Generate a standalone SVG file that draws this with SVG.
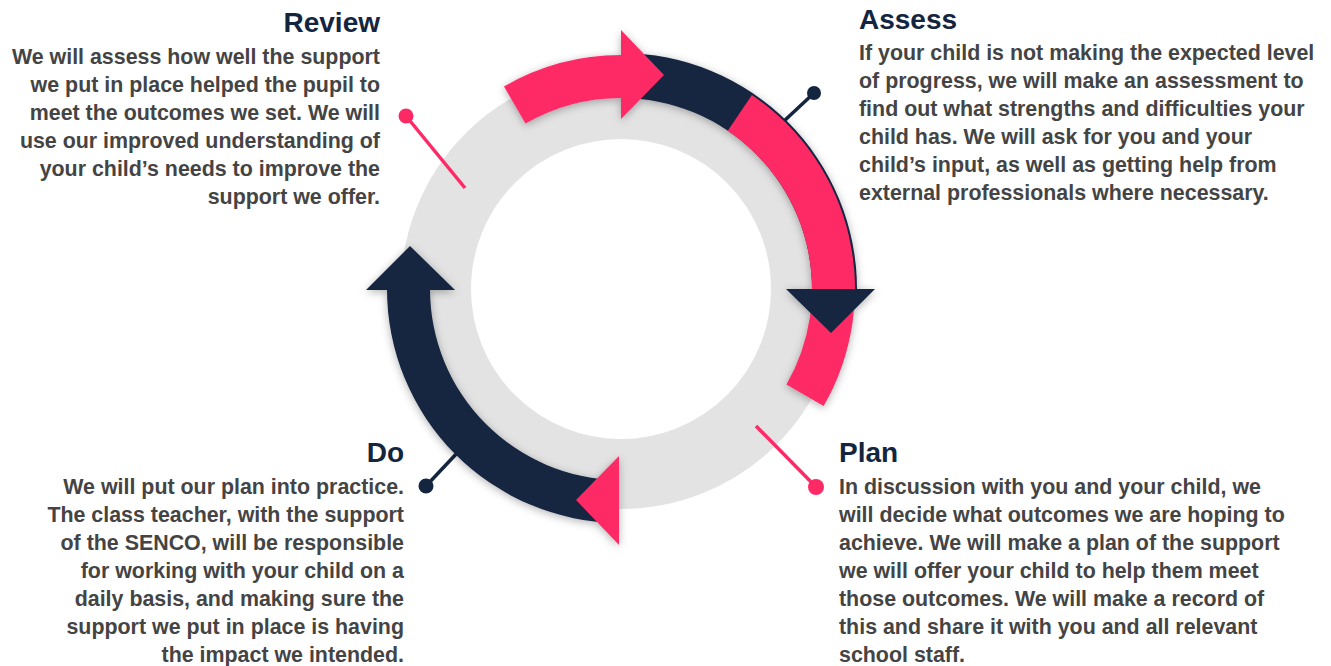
<svg xmlns="http://www.w3.org/2000/svg" width="1331" height="666" viewBox="0 0 1331 666">
  <defs>
    <filter id="sh" x="-20%" y="-20%" width="140%" height="140%">
      <feDropShadow dx="0" dy="2" stdDeviation="4" flood-color="#000" flood-opacity="0.3"/>
    </filter>
    <style>
      .pink { fill: #FE2A66; }
      .navy { fill: #14253F; }
      .h { font-family: "Liberation Sans", Arial, sans-serif; font-weight: bold; font-size: 28px; fill: #14253F; }
      .b { font-family: "Liberation Sans", Arial, sans-serif; font-weight: bold; font-size: 21.4px; fill: #444444; }
      .e { text-anchor: end; }
      .lp { stroke: #FE2A66; stroke-width: 3.5; fill: none; }
      .ln { stroke: #14253F; stroke-width: 3.5; fill: none; }
    </style>
  </defs>
  <rect width="1331" height="666" fill="#FFFFFF"/>

  <g id="ring">
    <circle cx="621" cy="289" r="185" fill="none" stroke="#E3E3E3" stroke-width="70"/>
  </g>

  <g id="connectors">
    <line class="lp" x1="465" y1="188" x2="406" y2="116"/>
    <circle class="pink" cx="406" cy="116" r="7.5"/>
    <line class="ln" x1="783" y1="122" x2="814" y2="93"/>
    <circle class="navy" cx="814" cy="93" r="7"/>
    <line class="lp" x1="756" y1="426" x2="816" y2="487"/>
    <circle class="pink" cx="816" cy="487" r="8"/>
    <line class="ln" x1="459" y1="451" x2="426" y2="486"/>
    <circle class="navy" cx="426" cy="486" r="7.5"/>
  </g>

  <g id="cycle" filter="url(#sh)">
    <g id="arc-do">
      <path class="navy" d="M 619 523 A 234 234 0 0 1 387 289 L 430 289 A 191 191 0 0 0 619 480 Z"/>
      <polygon class="navy" points="366,290 455,290 410,246"/>
    </g>
    <g id="arc-plan-head">
      <polygon class="pink" points="619,456 619,545 576,500"/>
    </g>
    <g id="arc-assess">
      <path class="navy" d="M 621 53 A 236 236 0 0 1 857 289 L 812 289 A 191 191 0 0 0 621 98 Z"/>
      <path class="pink" d="M 751.9 95 A 234 234 0 0 1 823.6 406 L 786.4 384.5 A 191 191 0 0 0 727.8 130.7 Z"/>
      <polygon class="navy" points="786,289 875,289 831,333"/>
    </g>
    <g id="arc-review">
      <path class="pink" d="M 525.5 123.6 L 504 86.4 A 234 234 0 0 1 621 55 L 621 30 L 664 75 L 621 119 L 621 98 A 191 191 0 0 0 525.5 123.6 Z"/>
    </g>
  </g>

  <g id="review">
    <text class="h e" x="380" y="32">Review</text>
    <text class="b e" x="380" y="64">We will assess how well the support</text>
    <text class="b e" x="380" y="92">we put in place helped the pupil to</text>
    <text class="b e" x="380" y="120">meet the outcomes we set. We will</text>
    <text class="b e" x="380" y="148">use our improved understanding of</text>
    <text class="b e" x="380" y="176">your child’s needs to improve the</text>
    <text class="b e" x="380" y="204">support we offer.</text>
  </g>

  <g id="assess">
    <text class="h" x="859" y="29">Assess</text>
    <text class="b" x="859" y="60">If your child is not making the expected level</text>
    <text class="b" x="859" y="88">of progress, we will make an assessment to</text>
    <text class="b" x="859" y="116">find out what strengths and difficulties your</text>
    <text class="b" x="859" y="144">child has. We will ask for you and your</text>
    <text class="b" x="859" y="172">child’s input, as well as getting help from</text>
    <text class="b" x="859" y="200">external professionals where necessary.</text>
  </g>

  <g id="plan">
    <text class="h" x="839" y="462">Plan</text>
    <text class="b" x="839" y="494">In discussion with you and your child, we</text>
    <text class="b" x="839" y="522">will decide what outcomes we are hoping to</text>
    <text class="b" x="839" y="550">achieve. We will make a plan of the support</text>
    <text class="b" x="839" y="578">we will offer your child to help them meet</text>
    <text class="b" x="839" y="606">those outcomes. We will make a record of</text>
    <text class="b" x="839" y="634">this and share it with you and all relevant</text>
    <text class="b" x="839" y="662">school staff.</text>
  </g>

  <g id="do">
    <text class="h e" x="404" y="462">Do</text>
    <text class="b e" x="404" y="494">We will put our plan into practice.</text>
    <text class="b e" x="404" y="522">The class teacher, with the support</text>
    <text class="b e" x="404" y="550">of the SENCO, will be responsible</text>
    <text class="b e" x="404" y="578">for working with your child on a</text>
    <text class="b e" x="404" y="606">daily basis, and making sure the</text>
    <text class="b e" x="404" y="634">support we put in place is having</text>
    <text class="b e" x="404" y="662">the impact we intended.</text>
  </g>
</svg>
